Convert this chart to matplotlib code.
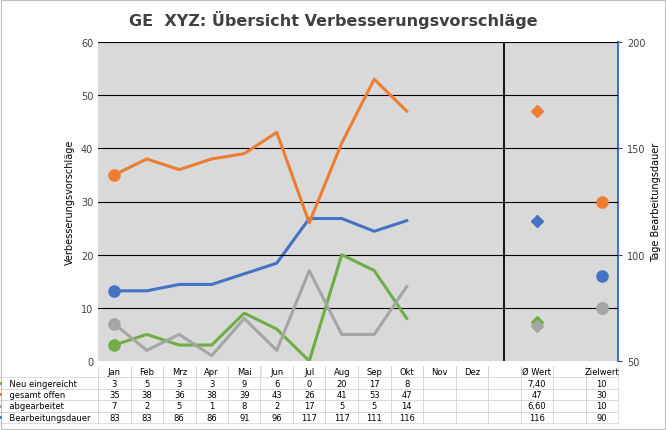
import numpy as np
import matplotlib.pyplot as plt

months = ["Jan", "Feb", "Mrz", "Apr", "Mai", "Jun", "Jul", "Aug", "Sep", "Okt", "Nov", "Dez"]
columns = months + ["", "Ø Wert", "", "Zielwert"]
neu = [3, 5, 3, 3, 9, 6, 0, 20, 17, 8]
offen = [35, 38, 36, 38, 39, 43, 26, 41, 53, 47]
abgearb = [7, 2, 5, 1, 8, 2, 17, 5, 5, 14]
dauer = [83, 83, 86, 86, 91, 96, 117, 117, 111, 116]
avg = {"neu": 7.40, "offen": 47, "abgearb": 6.60, "dauer": 116}
avg_labels = {"neu": "7,40", "offen": "47", "abgearb": "6,60", "dauer": "116"}
target = {"neu": 10, "offen": 30, "abgearb": 10, "dauer": 90}
names = {"neu": "Neu eingereicht", "offen": "gesamt offen",
         "abgearb": "abgearbeitet", "dauer": "Bearbeitungsdauer"}
colors = {"neu": "#70AD47", "offen": "#ED7D31", "abgearb": "#A5A5A5", "dauer": "#4472C4"}
series = {"neu": neu, "offen": offen, "abgearb": abgearb, "dauer": dauer}
keys = ["neu", "offen", "abgearb", "dauer"]

fig = plt.figure(figsize=(6.66, 4.31), dpi=100)
fig.patches.append(plt.Rectangle((0.002, 0.002), 0.996, 0.996, transform=fig.transFigure,
                                 fill=False, edgecolor="#BFBFBF", lw=0.8))
rect = [98 / 666, 1 - 362 / 431, 520 / 666, 319 / 431]
bg = fig.add_axes(rect)
bg.set_facecolor("#D9D9D9")
bg.set_xticks([])
bg.set_yticks([])
for s in bg.spines.values():
    s.set_visible(False)

ax = fig.add_axes(rect)
ax.patch.set_visible(False)
ax2 = ax.twinx()
ax2.patch.set_visible(False)
ax.set_zorder(ax2.get_zorder() + 1)

x = np.arange(len(neu))
i_avg, i_tgt = 13, 15
for v in range(10, 61, 10):
    ax.axhline(v, color="black", lw=0.8, zorder=0)
ax.axvline(12, color="black", lw=1.3, zorder=0)
for key in ["neu", "offen", "abgearb"]:
    c = colors[key]
    ax.plot(x, series[key], color=c, lw=2.2)
    ax.plot(0, series[key][0], "o", color=c, ms=8)
    ax.plot(i_avg, avg[key], "D", color=c, ms=6)
    ax.plot(i_tgt, target[key], "o", color=c, ms=8)
ax2.plot(x, dauer, color=colors["dauer"], lw=2.2)
ax2.plot(0, dauer[0], "o", color=colors["dauer"], ms=8)
ax2.plot(i_avg, avg["dauer"], "D", color=colors["dauer"], ms=6)
ax2.plot(i_tgt, target["dauer"], "o", color=colors["dauer"], ms=8)

ax.set_xlim(-0.5, len(columns) - 0.5)
ax.set_ylim(0, 60)
ax.set_yticks(range(0, 61, 10))
ax2.set_ylim(50, 200)
ax2.set_yticks(range(50, 201, 50))
ax.set_xticks([])
for a in (ax, ax2):
    for s in a.spines.values():
        s.set_visible(False)
ax2.spines["right"].set_visible(True)
ax2.spines["right"].set_color(colors["dauer"])
ax2.spines["right"].set_linewidth(1.5)
ax.tick_params(axis="y", length=0, labelsize=7, colors="#404040")
ax2.tick_params(axis="y", length=3, labelsize=7, colors="#404040")
ax.set_ylabel("Verbesserungsvorschläge", fontsize=7, color="black")
ax2.set_ylabel("Tage Bearbeitungsdauer", fontsize=7, color="black")

fig.suptitle("GE  XYZ: Übersicht Verbesserungsvorschläge", y=0.975,
             fontsize=11.5, fontweight="bold", color="#404040")

# data table
rows = []
for key in keys:
    vals = [str(v) for v in series[key]] + ["", ""]
    rows.append(vals + ["", avg_labels[key], "", str(target[key])])
tab = ax.table(cellText=rows, colLabels=columns,
               rowLabels=["       " + names[k] for k in keys],
               cellLoc="center", rowLoc="left",
               bbox=[0, -0.195, 1, 0.18])
tab.auto_set_font_size(False)
tab.set_fontsize(6)
for (r, c), cell in tab.get_celld().items():
    cell.set_edgecolor("#D0D0D0")
    cell.set_linewidth(0.5)
    if r == 0:
        cell.visible_edges = "LR"
    if c == -1:
        cell.set_width(88 / 520)
fig.canvas.draw()
for i, key in enumerate(keys):
    cell = tab[i + 1, -1]
    bb = cell.get_window_extent(fig.canvas.get_renderer()).transformed(fig.transFigure.inverted())
    yc = bb.y0 + bb.height / 2
    fig.add_artist(plt.Line2D([bb.x0 + 0.004, bb.x0 + 0.032], [yc, yc], color=colors[key], lw=2))

fig.savefig("out.png", dpi=100)
